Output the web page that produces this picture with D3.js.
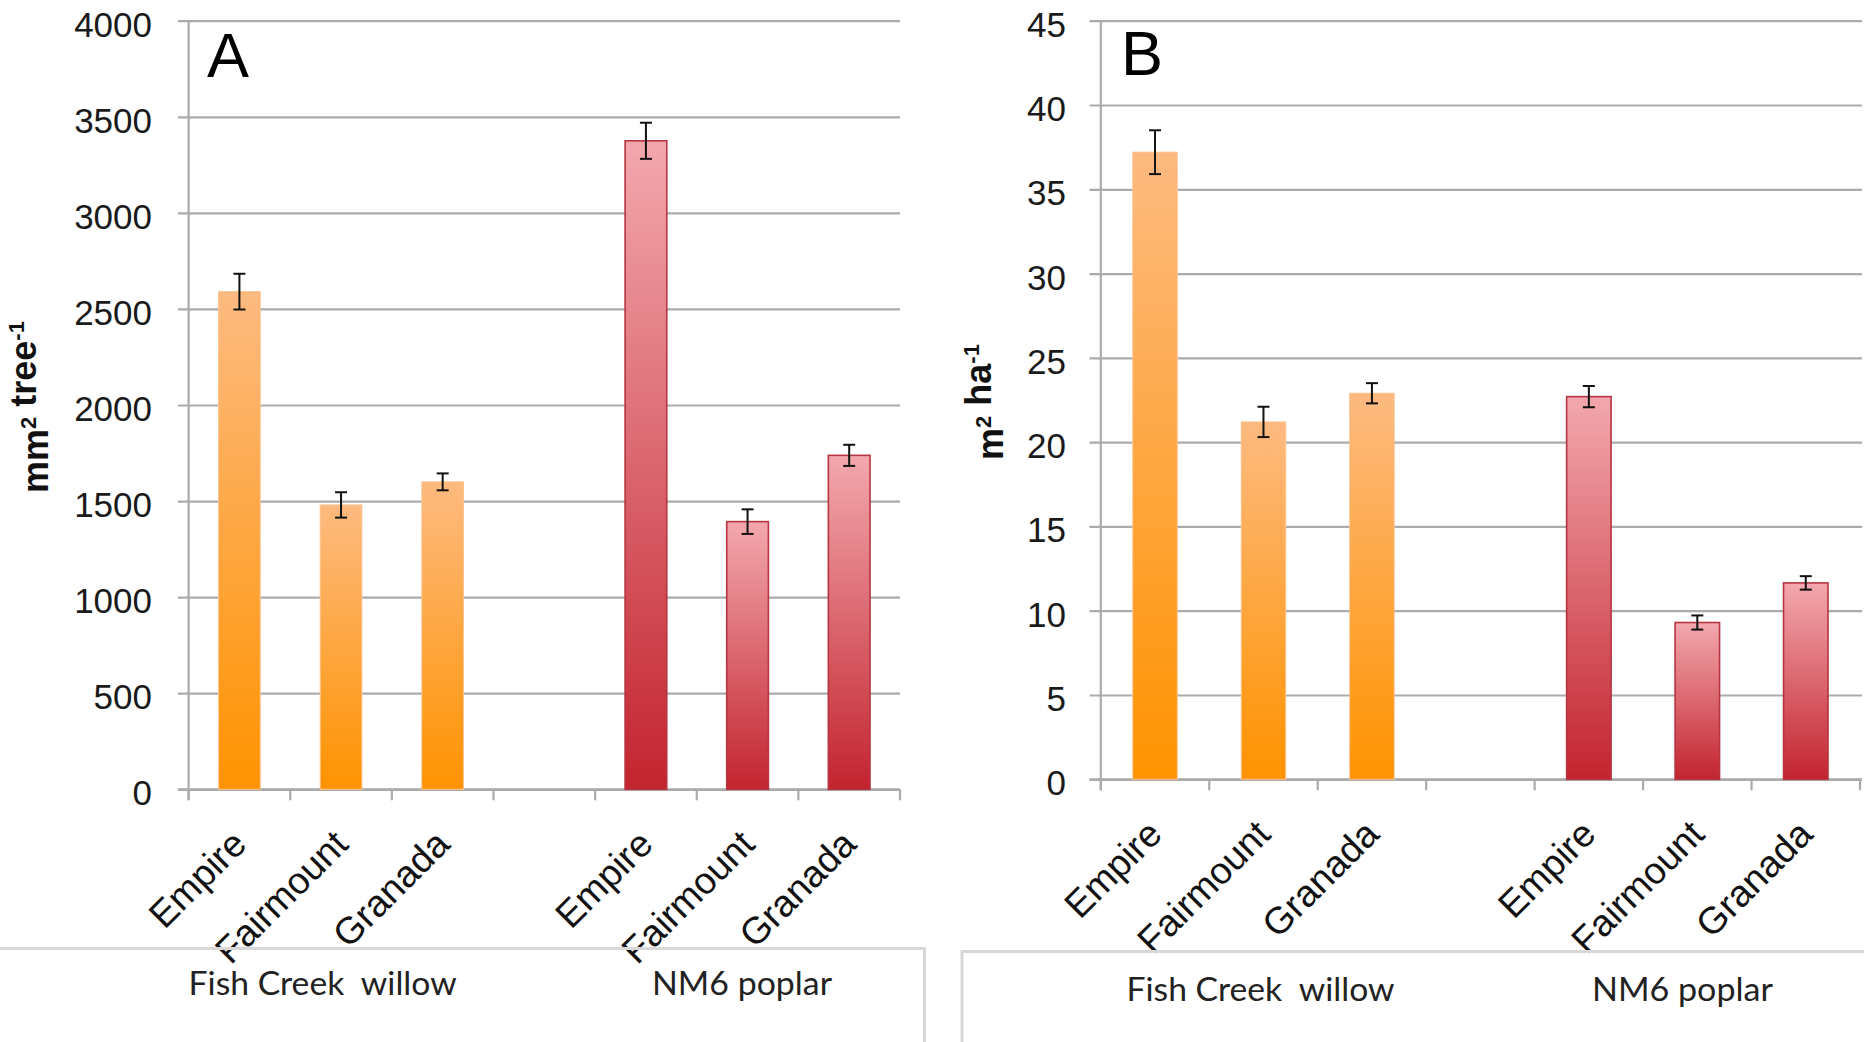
<!DOCTYPE html>
<html>
<head>
<meta charset="utf-8">
<script src="https://cdn.jsdelivr.net/npm/d3@7"></script>
<style>
  html, body { margin: 0; padding: 0; background: #fff; }
  svg { display: block; }
</style>
</head>
<body>
<svg id="chart" width="1864" height="1042"></svg>
<script>
// ---- data ----
const sites = ["Empire", "Fairmount", "Granada"];
const clones = ["Fish Creek  willow", "NM6 poplar"];

// basal area per tree (mm² tree⁻¹), mean and standard error
const perTreeWillow    = [2590, 1480, 1600];
const perTreeWillowErr = [93, 66, 44];
const perTreePoplar    = [3375, 1393, 1738];
const perTreePoplarErr = [94, 64, 55];

// basal area per hectare (m² ha⁻¹), mean and standard error
const perHaWillow    = [37.2, 21.2, 22.9];
const perHaWillowErr = [1.3, 0.9, 0.6];
const perHaPoplar    = [22.7, 9.3, 11.65];
const perHaPoplarErr = [0.63, 0.42, 0.4];

const ticksA = [0, 500, 1000, 1500, 2000, 2500, 3000, 3500, 4000];
const ticksB = [0, 5, 10, 15, 20, 25, 30, 35, 40, 45];

// ---- helpers ----
const svg = d3.select("#chart");
const defs = svg.append("defs");

function vGrad(id, top, bottom) {
  const g = defs.append("linearGradient").attr("id", id)
    .attr("x1", 0).attr("y1", 0).attr("x2", 0).attr("y2", 1);
  g.append("stop").attr("offset", "0%").attr("stop-color", top);
  g.append("stop").attr("offset", "100%").attr("stop-color", bottom);
}
vGrad("gWillow", "#FDBA80", "#FF9300");
vGrad("gPoplar", "#F3A8AE", "#C3242F");

// slot keys: three willow sites, an empty gap, three poplar sites
const slotKeys = [
  ...sites.map(s => clones[0] + "|" + s),
  "gap",
  ...sites.map(s => clones[1] + "|" + s)
];

function buildRows(willow, willowErr, poplar, poplarErr) {
  return [
    ...sites.map((s, i) => ({ key: clones[0] + "|" + s, site: s, clone: 0, v: willow[i], e: willowErr[i] })),
    ...sites.map((s, i) => ({ key: clones[1] + "|" + s, site: s, clone: 1, v: poplar[i], e: poplarErr[i] }))
  ];
}

function drawPanel(cfg) {
  const g = svg.append("g");
  const rows = buildRows(...cfg.series);

  const x = d3.scaleBand().domain(slotKeys)
    .range([cfg.left, cfg.right])
    .paddingInner(0.59).paddingOuter(0.295);
  const slot = d3.scaleBand().domain(slotKeys).range([cfg.left, cfg.right]);
  const y = d3.scaleLinear().domain([0, cfg.max]).range([cfg.bottom, cfg.top]);

  // horizontal gridlines with outward tick stubs
  const yAxis = d3.axisLeft(y).tickValues(cfg.ticks)
    .tickSize(-(cfg.gridRight - cfg.left)).tickSizeOuter(0).tickFormat("");
  const ga = g.append("g").attr("transform", `translate(${cfg.left},0)`).call(yAxis);
  ga.select(".domain").remove();
  ga.selectAll(".tick line")
    .attr("x1", -(cfg.left - cfg.gridLeft))
    .attr("stroke", "#ABABAB").attr("stroke-width", 2.2);

  // tick labels
  g.append("g").selectAll("text").data(cfg.ticks).join("text")
    .attr("x", cfg.labelRight)
    .attr("y", d => y(d) + 16)
    .attr("text-anchor", "end")
    .attr("font-family", "Liberation Sans, Arial, sans-serif")
    .attr("font-size", 35)
    .attr("fill", "#1a1a1a")
    .text(d => d);

  // vertical axis line
  g.append("line")
    .attr("x1", cfg.left).attr("x2", cfg.left)
    .attr("y1", y(cfg.max)).attr("y2", cfg.bottom + 11)
    .attr("stroke", "#ABABAB").attr("stroke-width", 2.2);

  // category axis with ticks at slot boundaries
  const xAxis = d3.axisBottom(slot).tickSize(11).tickSizeOuter(0).tickFormat("");
  const gx = g.append("g").attr("transform", `translate(0,${cfg.bottom})`).call(xAxis);
  gx.select(".domain").attr("stroke", "#ABABAB").attr("stroke-width", 2.2)
    .attr("d", `M${cfg.gridLeft},0H${cfg.gridRight}`);
  gx.selectAll(".tick").attr("transform", d => `translate(${slot(d)},0)`);
  gx.selectAll(".tick line").attr("stroke", "#ABABAB").attr("stroke-width", 2.2);
  gx.append("line").attr("x1", cfg.right).attr("x2", cfg.right)
    .attr("y1", 0).attr("y2", 11).attr("stroke", "#ABABAB").attr("stroke-width", 2.2);

  // bars
  g.append("g").selectAll("rect").data(rows).join("rect")
    .attr("x", d => x(d.key))
    .attr("width", x.bandwidth())
    .attr("y", d => y(d.v))
    .attr("height", d => y(0) - y(d.v))
    .attr("fill", d => d.clone === 0 ? "url(#gWillow)" : "url(#gPoplar)")
    .attr("stroke", d => d.clone === 0 ? "#FCC38F" : "#B63540")
    .attr("stroke-width", d => d.clone === 0 ? 1 : 1.6);

  // error bars
  const eb = g.append("g").attr("stroke", "#111").attr("stroke-width", 2);
  rows.forEach(d => {
    const cx = x(d.key) + x.bandwidth() / 2;
    eb.append("line").attr("x1", cx).attr("x2", cx).attr("y1", y(d.v + d.e)).attr("y2", y(d.v - d.e));
    eb.append("line").attr("x1", cx - 6).attr("x2", cx + 6).attr("y1", y(d.v + d.e)).attr("y2", y(d.v + d.e));
    eb.append("line").attr("x1", cx - 6).attr("x2", cx + 6).attr("y1", y(d.v - d.e)).attr("y2", y(d.v - d.e));
  });

  // rotated site labels
  g.append("g").selectAll("text").data(rows).join("text")
    .attr("transform", d => `translate(${x(d.key) + x.bandwidth() / 2 + 9},${cfg.bottom + 57}) rotate(-45)`)
    .attr("text-anchor", "end")
    .attr("font-family", "Liberation Sans, Arial, sans-serif")
    .attr("font-size", 37.5)
    .attr("fill", "#111")
    .text(d => d.site);

  // panel letter
  g.append("text")
    .attr("x", cfg.letterX).attr("y", cfg.letterY)
    .attr("font-family", "Liberation Sans, Arial, sans-serif")
    .attr("font-size", 63)
    .attr("fill", "#000")
    .text(cfg.letter);

  // y-axis title with superscripts
  const t = g.append("text")
    .attr("transform", `translate(${cfg.titleX},${cfg.titleY}) rotate(-90)`)
    .attr("text-anchor", "middle")
    .attr("font-family", "Liberation Sans, Arial, sans-serif")
    .attr("font-weight", "bold")
    .attr("font-size", 36)
    .attr("fill", "#111");
  cfg.title.forEach(([txt, sup]) => {
    t.append("tspan").text(txt);
    t.append("tspan").attr("font-size", 22).attr("dy", -12).text(sup);
    t.append("tspan").attr("dy", 12).text("");
  });

  // clone group box and labels
  const box = g.append("g").attr("fill", "none").attr("stroke", "#D8D8D8").attr("stroke-width", 3);
  box.append("path").attr("d", cfg.boxPath);
  g.append("g").selectAll("text").data(clones).join("text")
    .attr("x", (d, i) => cfg.groupX[i])
    .attr("y", cfg.groupY)
    .attr("text-anchor", "middle")
    .attr("xml:space", "preserve")
    .style("white-space", "pre")
    .attr("font-family", "Lato, sans-serif")
    .attr("font-size", 32)
    .attr("fill", "#222")
    .attr("textLength", (d, i) => cfg.groupW[i])
    .attr("lengthAdjust", "spacingAndGlyphs")
    .text(d => d);
}

drawPanel({
  series: [perTreeWillow, perTreeWillowErr, perTreePoplar, perTreePoplarErr],
  ticks: ticksA, max: 4000,
  left: 188.6, right: 900, gridLeft: 178, gridRight: 900,
  top: 20.7, bottom: 789.3, labelRight: 152,
  letter: "A", letterX: 207, letterY: 76.5,
  title: [["mm", "2"], [" tree", "-1"]], titleX: 48, titleY: 407,
  boxPath: "M-10,948.5H924.5V1050",
  groupX: [322.6, 742], groupY: 995, groupW: [268, 180]
});

drawPanel({
  series: [perHaWillow, perHaWillowErr, perHaPoplar, perHaPoplarErr],
  ticks: ticksB, max: 45,
  left: 1100.8, right: 1860, gridLeft: 1089.5, gridRight: 1862,
  top: 20.7, bottom: 779.3, labelRight: 1066,
  letter: "B", letterX: 1121, letterY: 75,
  title: [["m", "2"], [" ha", "-1"]], titleX: 1003, titleY: 402,
  boxPath: "M962,1050V951.5H1874",
  groupX: [1260.5, 1682.4], groupY: 1000.5, groupW: [268, 181]
});
</script>
</body>
</html>
